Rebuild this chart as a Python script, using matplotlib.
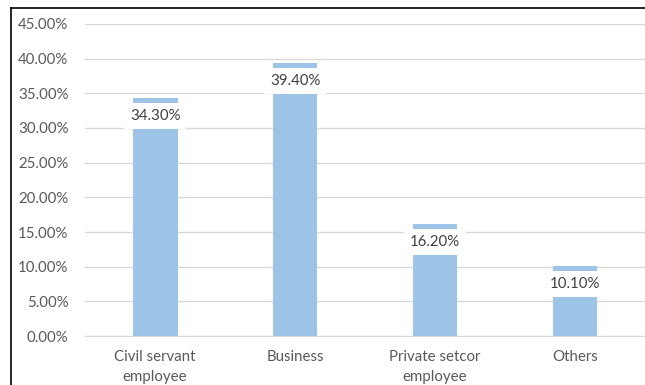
import matplotlib.pyplot as plt
from matplotlib.lines import Line2D
from matplotlib.ticker import FuncFormatter

categories = ['Civil servant\nemployee', 'Business', 'Private setcor\nemployee', 'Others']
values = [34.3, 39.4, 16.2, 10.1]

plt.rcParams['font.family'] = ['Lato', 'DejaVu Sans']

fig = plt.figure(figsize=(6.45, 3.85), dpi=100)
ax = fig.add_axes([0.132, 0.127, 0.868, 0.811])

x = range(len(categories))
ax.bar(x, values, width=0.32, color='#9DC3E6', zorder=2)

# data labels in white boxes just under the bar top
for xi, v in zip(x, values):
    ax.text(xi, v - 2.65, f'{v:.2f}%', ha='center', va='center', fontsize=10.8,
            color='#404040', zorder=3,
            bbox=dict(boxstyle='square,pad=0.4', fc='white', ec='none'))

ax.set_ylim(0, 45)
ax.set_xlim(-0.5, 3.5)
ax.set_yticks(range(0, 46, 5))
ax.yaxis.set_major_formatter(FuncFormatter(lambda v, p: f'{v:.2f}%'))
ax.set_xticks(list(x))
ax.set_xticklabels(categories, linespacing=1.55)

ax.grid(axis='y', color='#D9D9D9', linewidth=1, zorder=0)
ax.tick_params(axis='both', length=0, labelsize=10.8, colors='#595959')
ax.tick_params(axis='y', pad=12)
ax.tick_params(axis='x', pad=10)
for s in ['top', 'right', 'left']:
    ax.spines[s].set_visible(False)
ax.spines['bottom'].set_color('#D9D9D9')

# outer border (left and top)
fig.add_artist(Line2D([0.017, 0.017], [0, 0.979], color='black', linewidth=1.2))
fig.add_artist(Line2D([0.017, 1], [0.979, 0.979], color='black', linewidth=1.2))

plt.savefig('out.png', dpi=100)
